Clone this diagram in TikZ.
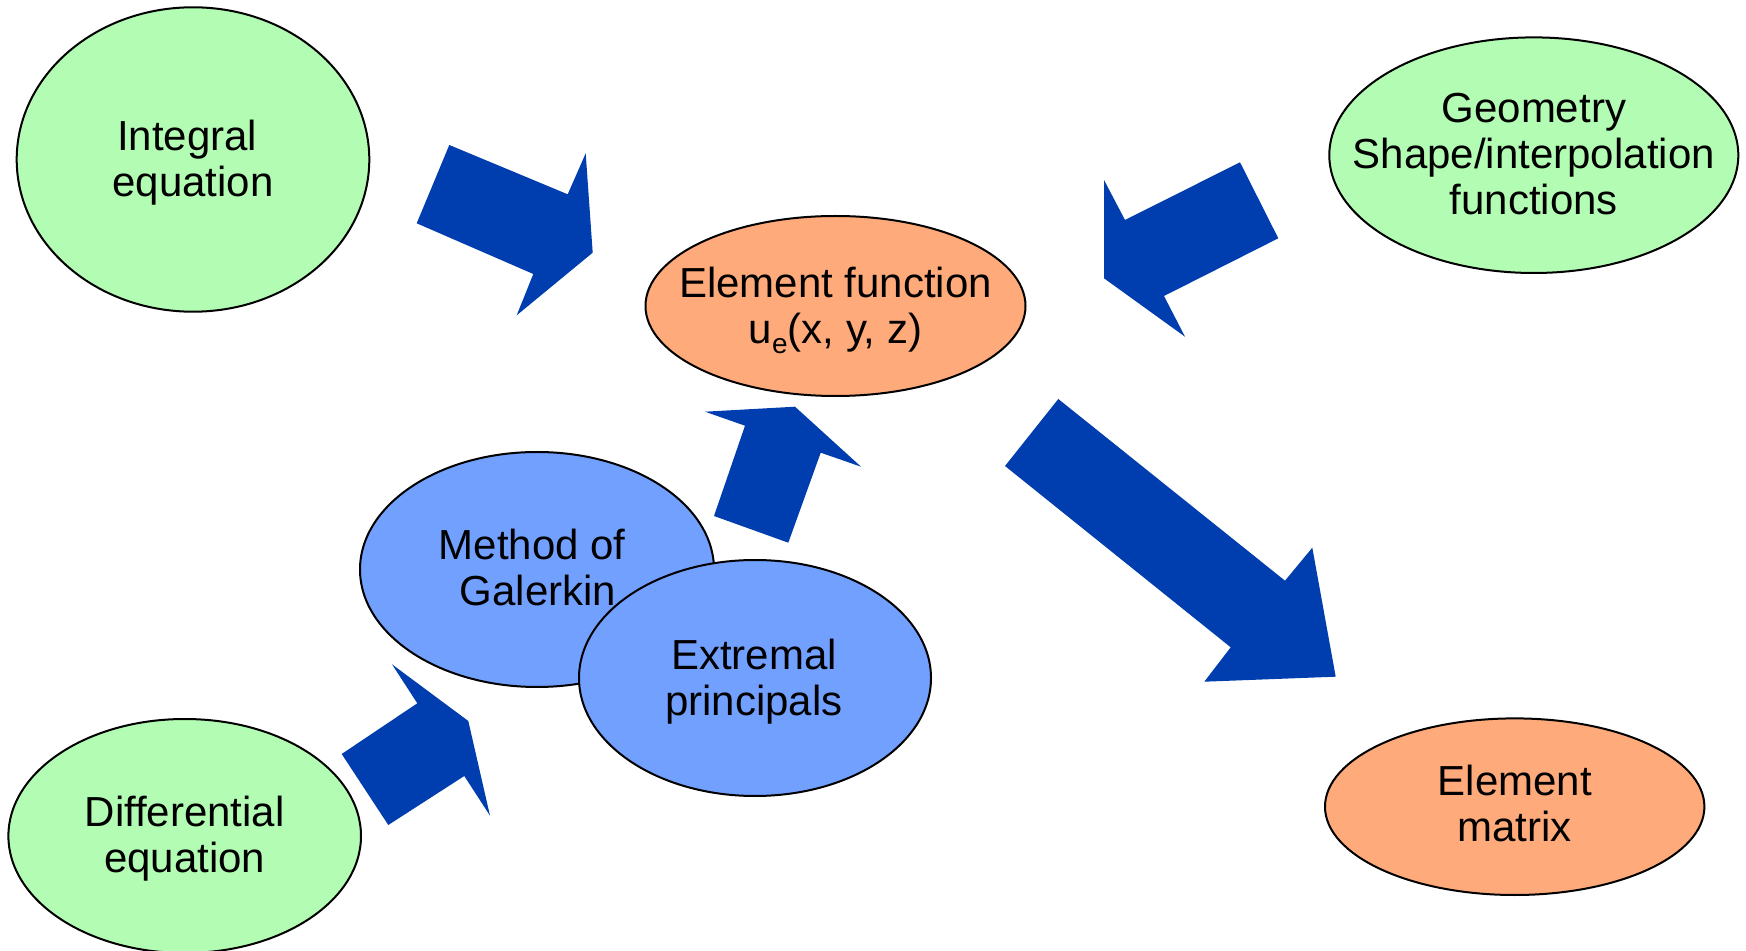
\documentclass[tikz,border=0pt]{standalone}
\usepackage{fontspec}
\setmainfont{Liberation Sans}
\usetikzlibrary{shapes.geometric}
\definecolor{lgreen}{RGB}{179,252,179}
\definecolor{lorange}{RGB}{255,170,122}
\definecolor{lblue}{RGB}{114,160,255}
\definecolor{darrow}{RGB}{0,62,175}
\begin{document}
\begin{tikzpicture}[x=0.5pt,y=-0.5pt,
  blob/.style={ellipse, draw=black, line width=1pt, inner sep=0pt, outer sep=0pt},
  greenblob/.style={blob, fill=lgreen},
  orangeblob/.style={blob, fill=lorange},
  blueblob/.style={blob, fill=lblue},
  lbl/.style={font=\fontsize{21}{23}\selectfont, align=center, inner sep=0pt},
  blockarrow/.style={fill=darrow, draw=none}]
\useasboundingbox (0,0) rectangle (1746,951);
\clip (0,0) rectangle (1746,951);
\fill[white] (0,0) rectangle (1746,951);

% ellipses
\node (integ) [greenblob, minimum width=176.3pt, minimum height=152.2pt] at (193,159.5) {};
\node (geom) [greenblob, minimum width=204.5pt, minimum height=117.8pt] at (1533.8,155.2) {};
\node (efun) [orangeblob, minimum width=190pt, minimum height=90pt] at (835.5,306) {};
\node (galer) [blueblob, minimum width=177pt, minimum height=117.5pt] at (537,569.5) {};
\node (extr) [blueblob, minimum width=176pt, minimum height=118pt] at (755,678) {};
\node (diff) [greenblob, minimum width=176.3pt, minimum height=117pt] at (184.7,836) {};
\node (emat) [orangeblob, minimum width=189.7pt, minimum height=88.3pt] at (1514.7,806.7) {};

% labels
\node (integT) [lbl] at (193,163) {Integral\hspace*{0.28em}\\equation};
\node (geomT) [lbl] at (1533.8,154) {Geometry\\Shape/interpolation\\functions};
\node (efunT) [lbl] at (835.5,310) {Element function\\u\raisebox{-5pt}{\fontsize{14}{14}\selectfont e}(x, y, z)};
\node (galerT) [lbl] at (538,567) {Method of\hspace*{0.28em}\\Galerkin};
\node (extrT) [lbl] at (754,682) {Extremal\\principals};
\node (diffT) [lbl] at (184.7,839) {Differential\\equation};
\node (ematT) [lbl] at (1514.7,803) {Element\\matrix};

% block arrows
\fill[blockarrow] (449.3,145) -- (567.7,194.3) -- (585.7,153.3) -- (592.7,252.7) -- (516.7,315.3) -- (533.3,274) -- (416.7,223.3) -- cycle;
\fill[blockarrow] (1240,162.3) -- (1278.3,238.3) -- (1164,296) -- (1185,336.7) -- (1104,278.3) -- (1104,180) -- (1125,220) -- cycle;
\fill[blockarrow] (714,516) -- (788.3,542.7) -- (820.7,452.7) -- (861,466.7) -- (795,406.7) -- (705,411.7) -- (745,425.7) -- cycle;
\fill[blockarrow] (392,664.3) -- (468.3,721) -- (490,815.7) -- (464.3,776) -- (388.3,825) -- (341.7,754) -- (417.3,703.3) -- cycle;
\fill[blockarrow] (1058.3,399) -- (1285,580.7) -- (1312.3,547.7) -- (1335.7,676.7) -- (1204.3,681.7) -- (1230.7,647.3) -- (1005,466) -- cycle;
\end{tikzpicture}
\end{document}
